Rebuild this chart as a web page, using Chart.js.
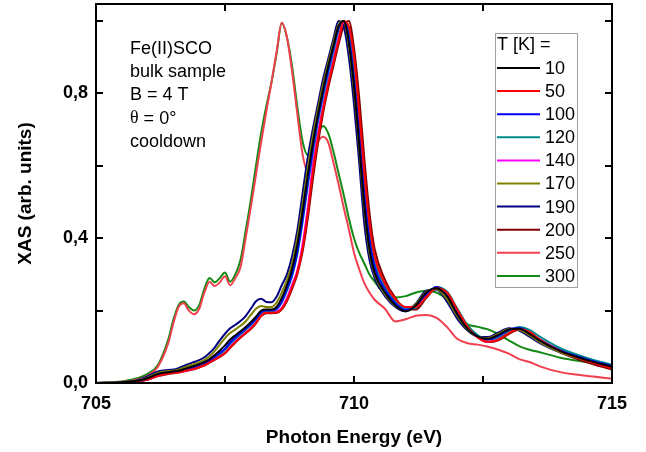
<!DOCTYPE html>
<html lang="en">
<head>
  <meta charset="UTF-8">
  <title>XAS Fe(II)SCO</title>
  <style>
    html, body { margin: 0; padding: 0; background: #fff; }
    #chart { display: block; }
  </style>
</head>
<body>
  <canvas id="chart" width="646" height="452"></canvas>

  <script src="https://cdn.jsdelivr.net/npm/chart.js@4.4.1/dist/chart.umd.min.js"></script>
  <script>
    // photon energy grid (eV)
    const ENERGY = [
      705.0, 705.5, 705.8, 706.0, 706.2, 706.4, 706.5, 706.6, 706.7, 706.8,
      706.9, 707.0, 707.1, 707.2, 707.3, 707.4, 707.5, 707.6, 707.7, 707.8,
      707.9, 708.0, 708.1, 708.2, 708.3, 708.4, 708.5, 708.6, 708.7, 708.8,
      708.9, 709.0, 709.1, 709.2, 709.3, 709.4, 709.5, 709.6, 709.7, 709.8,
      709.9, 710.0, 710.1, 710.2, 710.3, 710.4, 710.6, 710.8, 711.0, 711.2,
      711.4, 711.6, 711.8, 712.0, 712.2, 712.4, 712.6, 712.8, 713.0, 713.2,
      713.4, 713.6, 714.0, 714.5, 715.0
    ];

    // XAS per temperature
    const T10 = [
      0, 0.002, 0.006, 0.013, 0.025, 0.03, 0.032, 0.034, 0.038, 0.043,
      0.047, 0.052, 0.058, 0.066, 0.077, 0.09, 0.104, 0.12, 0.132, 0.143,
      0.155, 0.168, 0.183, 0.2, 0.203, 0.203, 0.21, 0.235, 0.27, 0.315,
      0.38, 0.47, 0.57, 0.66, 0.74, 0.81, 0.875, 0.93, 0.985, 1.0,
      0.94, 0.82, 0.66, 0.49, 0.37, 0.305, 0.25, 0.215, 0.198, 0.215,
      0.25, 0.262, 0.24, 0.19, 0.15, 0.128, 0.122, 0.133, 0.148, 0.15,
      0.136, 0.117, 0.088, 0.064, 0.045
    ];
    const T50 = [
      0, 0.001, 0.005, 0.01, 0.02, 0.026, 0.028, 0.03, 0.033, 0.036,
      0.039, 0.044, 0.049, 0.057, 0.065, 0.073, 0.083, 0.098, 0.113, 0.126,
      0.138, 0.15, 0.166, 0.186, 0.194, 0.194, 0.195, 0.205, 0.23, 0.265,
      0.305, 0.37, 0.465, 0.58, 0.675, 0.755, 0.825, 0.885, 0.945, 1.0,
      0.985, 0.9, 0.75, 0.58, 0.44, 0.35, 0.275, 0.232, 0.21, 0.21,
      0.238, 0.262, 0.25, 0.202, 0.156, 0.126, 0.114, 0.12, 0.138, 0.149,
      0.141, 0.12, 0.088, 0.062, 0.041
    ];
    const T100 = [
      0, 0.001, 0.006, 0.012, 0.023, 0.029, 0.031, 0.033, 0.036, 0.04,
      0.044, 0.049, 0.055, 0.062, 0.072, 0.083, 0.095, 0.112, 0.126, 0.138,
      0.15, 0.162, 0.178, 0.196, 0.2, 0.2, 0.205, 0.225, 0.26, 0.3,
      0.36, 0.45, 0.55, 0.645, 0.73, 0.8, 0.865, 0.925, 0.98, 1.0,
      0.955, 0.84, 0.69, 0.52, 0.395, 0.32, 0.258, 0.22, 0.202, 0.212,
      0.245, 0.265, 0.245, 0.195, 0.153, 0.128, 0.12, 0.13, 0.147, 0.152,
      0.14, 0.12, 0.09, 0.066, 0.047
    ];
    const T120 = [
      0, 0.001, 0.005, 0.011, 0.022, 0.028, 0.03, 0.032, 0.035, 0.039,
      0.043, 0.048, 0.054, 0.061, 0.07, 0.08, 0.092, 0.108, 0.122, 0.135,
      0.147, 0.16, 0.176, 0.194, 0.199, 0.199, 0.203, 0.222, 0.255, 0.295,
      0.355, 0.44, 0.54, 0.635, 0.72, 0.79, 0.855, 0.915, 0.975, 1.0,
      0.965, 0.86, 0.71, 0.54, 0.41, 0.33, 0.265, 0.225, 0.205, 0.208,
      0.238, 0.265, 0.252, 0.205, 0.16, 0.132, 0.12, 0.126, 0.143, 0.155,
      0.147, 0.128, 0.096, 0.07, 0.05
    ];
    const T140 = [
      0, 0.001, 0.005, 0.01, 0.02, 0.027, 0.029, 0.031, 0.034, 0.036,
      0.04, 0.045, 0.05, 0.058, 0.066, 0.074, 0.084, 0.1, 0.115, 0.128,
      0.14, 0.152, 0.168, 0.188, 0.196, 0.196, 0.197, 0.208, 0.235, 0.272,
      0.31, 0.38, 0.48, 0.6, 0.69, 0.765, 0.835, 0.895, 0.955, 0.995,
      0.975, 0.88, 0.73, 0.56, 0.425, 0.34, 0.27, 0.228, 0.208, 0.21,
      0.24, 0.263, 0.248, 0.2, 0.155, 0.126, 0.114, 0.122, 0.14, 0.15,
      0.14, 0.12, 0.09, 0.065, 0.045
    ];
    const T170 = [
      0, 0.002, 0.007, 0.015, 0.028, 0.033, 0.034, 0.037, 0.042, 0.048,
      0.052, 0.057, 0.064, 0.074, 0.088, 0.106, 0.124, 0.138, 0.148, 0.158,
      0.17, 0.188, 0.205, 0.213, 0.21, 0.21, 0.222, 0.25, 0.285, 0.33,
      0.40, 0.49, 0.59, 0.68, 0.755, 0.825, 0.885, 0.94, 0.99, 1.0,
      0.93, 0.81, 0.65, 0.48, 0.36, 0.30, 0.245, 0.213, 0.2, 0.218,
      0.252, 0.26, 0.232, 0.185, 0.148, 0.128, 0.124, 0.136, 0.149, 0.147,
      0.132, 0.113, 0.085, 0.062, 0.044
    ];
    const T190 = [
      0, 0.002, 0.008, 0.018, 0.032, 0.036, 0.037, 0.041, 0.047, 0.053,
      0.058, 0.063, 0.071, 0.083, 0.098, 0.118, 0.136, 0.151, 0.161, 0.171,
      0.185, 0.205, 0.226, 0.233, 0.224, 0.223, 0.238, 0.27, 0.30, 0.35,
      0.42, 0.52, 0.62, 0.70, 0.77, 0.84, 0.895, 0.95, 1.0, 0.985,
      0.90, 0.77, 0.61, 0.44, 0.34, 0.29, 0.24, 0.21, 0.198, 0.22,
      0.255, 0.258, 0.225, 0.178, 0.145, 0.128, 0.127, 0.14, 0.151, 0.145,
      0.128, 0.11, 0.084, 0.062, 0.044
    ];
    const T200 = [
      0, 0.001, 0.004, 0.009, 0.019, 0.025, 0.027, 0.029, 0.032, 0.035,
      0.038, 0.043, 0.048, 0.056, 0.064, 0.072, 0.082, 0.097, 0.112, 0.125,
      0.137, 0.149, 0.165, 0.185, 0.193, 0.193, 0.194, 0.203, 0.226, 0.26,
      0.3, 0.36, 0.45, 0.56, 0.66, 0.745, 0.815, 0.875, 0.935, 0.985,
      1.0, 0.925, 0.79, 0.62, 0.47, 0.37, 0.285, 0.235, 0.205, 0.203,
      0.235, 0.262, 0.252, 0.205, 0.158, 0.126, 0.113, 0.118, 0.135, 0.147,
      0.14, 0.118, 0.085, 0.058, 0.037
    ];
    const T250 = [
      0, 0.003, 0.01, 0.02, 0.045, 0.11, 0.165, 0.21, 0.22, 0.2,
      0.19, 0.205, 0.25, 0.28, 0.268, 0.278, 0.295, 0.27, 0.29, 0.32,
      0.40, 0.485, 0.575, 0.665, 0.75, 0.83, 0.915, 0.995, 0.955, 0.86,
      0.745, 0.635, 0.585, 0.62, 0.665, 0.68, 0.665, 0.61, 0.55, 0.485,
      0.425, 0.36, 0.315, 0.276, 0.25, 0.23, 0.205, 0.17, 0.176, 0.186,
      0.188, 0.18, 0.155, 0.122, 0.11, 0.106, 0.1, 0.092, 0.081, 0.066,
      0.058, 0.046, 0.03, 0.02, 0.012
    ];
    const T300 = [
      0, 0.004, 0.013, 0.025, 0.05, 0.12, 0.175, 0.215, 0.225, 0.21,
      0.2, 0.215, 0.26, 0.29, 0.278, 0.29, 0.305, 0.28, 0.30, 0.34,
      0.42, 0.505, 0.6, 0.69, 0.765, 0.83, 0.91, 0.995, 0.955, 0.875,
      0.765, 0.67, 0.63, 0.65, 0.69, 0.71, 0.69, 0.64, 0.58, 0.52,
      0.455, 0.4, 0.36, 0.33, 0.3, 0.28, 0.245, 0.236, 0.24, 0.25,
      0.255, 0.25, 0.23, 0.19, 0.162, 0.155, 0.148, 0.135, 0.118, 0.102,
      0.092, 0.085, 0.07, 0.058, 0.046
    ];

    const TEMPS = ['10', '50', '100', '120', '140', '170', '190', '200', '250', '300'];
    const VALUES = [T10, T50, T100, T120, T140, T170, T190, T200, T250, T300];
    const COLORS = [
      '#000000', '#ff0000', '#0000ff', '#008b8b', '#ff00ff',
      '#808000', '#000080', '#800000', '#f0404f', '#138a13'
    ];

    const X_MARKS = [705, 707.5, 710, 712.5, 715];
    const Y_MARKS = [0, 0.2, 0.4, 0.6, 0.8, 1.0];
    const NOTE = ['Fe(II)SCO', 'bulk sample', 'B = 4 T', 'θ = 0°', 'cooldown'];

    const SANS = '"Liberation Sans", Arial, sans-serif';

    const datasets = TEMPS.map((t, i) => ({
      label: t,
      data: ENERGY.map((e, j) => ({ x: e, y: VALUES[i][j] })),
      borderColor: COLORS[i],
      borderWidth: 2,
      pointRadius: 0,
      fill: false,
      cubicInterpolationMode: 'monotone'
    }));

    // box, inward ticks, note and legend
    const decorations = {
      id: 'decorations',
      afterDraw(chart) {
        const { ctx, chartArea: a, scales: { x, y } } = chart;
        ctx.save();
        ctx.strokeStyle = '#000';
        ctx.lineWidth = 2;
        ctx.strokeRect(a.left, a.top, a.right - a.left, a.bottom - a.top);
        ctx.beginPath();
        X_MARKS.forEach(v => {
          const px = Math.round(x.getPixelForValue(v));
          ctx.moveTo(px, a.bottom); ctx.lineTo(px, a.bottom - 7);
          ctx.moveTo(px, a.top); ctx.lineTo(px, a.top + 7);
        });
        Y_MARKS.forEach(v => {
          const py = Math.round(y.getPixelForValue(v));
          ctx.moveTo(a.left, py); ctx.lineTo(a.left + 7, py);
          ctx.moveTo(a.right, py); ctx.lineTo(a.right - 7, py);
        });
        ctx.stroke();

        // annotation
        ctx.fillStyle = '#000';
        ctx.textBaseline = 'middle';
        ctx.textAlign = 'left';
        NOTE.forEach((line, i) => {
          const ty = 49 + i * 23.2;
          if (line.startsWith('θ')) {
            ctx.font = '18px "Liberation Serif", "Times New Roman", serif';
            ctx.fillText('θ', 130, ty);
            const w = ctx.measureText('θ').width;
            ctx.font = '18px ' + SANS;
            ctx.fillText(line.slice(1), 130 + w, ty);
          } else {
            ctx.font = '18px ' + SANS;
            ctx.fillText(line, 130, ty);
          }
        });

        // legend
        const lx = 495, ly = 33;
        ctx.lineWidth = 1;
        ctx.strokeStyle = '#a0a0a0';
        ctx.strokeRect(lx + 0.5, ly + 0.5, 82, 254);
        ctx.font = '18px ' + SANS;
        ctx.fillStyle = '#000';
        ctx.fillText('T [K] =', lx + 2, 45);
        chart.data.datasets.forEach((ds, i) => {
          const ry = 68 + i * 23.1;
          ctx.strokeStyle = ds.borderColor;
          ctx.lineWidth = 2;
          ctx.beginPath();
          ctx.moveTo(lx + 2, ry);
          ctx.lineTo(lx + 45, ry);
          ctx.stroke();
          ctx.fillText(ds.label, lx + 50, ry + 1);
        });
        ctx.restore();
      }
    };

    new Chart(document.getElementById('chart'), {
      type: 'line',
      data: { datasets },
      plugins: [decorations],
      options: {
        responsive: false,
        animation: false,
        devicePixelRatio: 1,
        layout: { padding: { left: 0, right: 34, top: 4, bottom: 0 } },
        plugins: {
          legend: { display: false },
          tooltip: { enabled: false }
        },
        scales: {
          x: {
            type: 'linear',
            min: 705,
            max: 715,
            grid: { display: false, drawTicks: false },
            border: { display: false },
            ticks: {
              stepSize: 5,
              padding: 10,
              color: '#000',
              font: { family: SANS, size: 18, weight: 'bold' }
            },
            title: {
              display: true,
              text: 'Photon Energy (eV)',
              color: '#000',
              padding: { top: 0, bottom: 3 },
              font: { family: SANS, size: 19, weight: 'bold' }
            },
            afterFit(scale) {
              scale.height = 69;
              scale.paddingLeft = 0;
              scale.paddingRight = 0;
            }
          },
          y: {
            min: 0,
            max: 1.047,
            grid: { display: false, drawTicks: false },
            border: { display: false },
            ticks: {
              stepSize: 0.4,
              includeBounds: false,
              padding: 8,
              color: '#000',
              font: { family: SANS, size: 18, weight: 'bold' },
              callback: v => v.toFixed(1).replace('.', ',')
            },
            title: {
              display: true,
              text: 'XAS (arb. units)',
              color: '#000',
              padding: { top: 14, bottom: 0 },
              font: { family: SANS, size: 19, weight: 'bold' }
            },
            afterFit(scale) {
              scale.width = 96;
              scale.paddingTop = 0;
              scale.paddingBottom = 0;
            }
          }
        }
      }
    });
  </script>
</body>
</html>
